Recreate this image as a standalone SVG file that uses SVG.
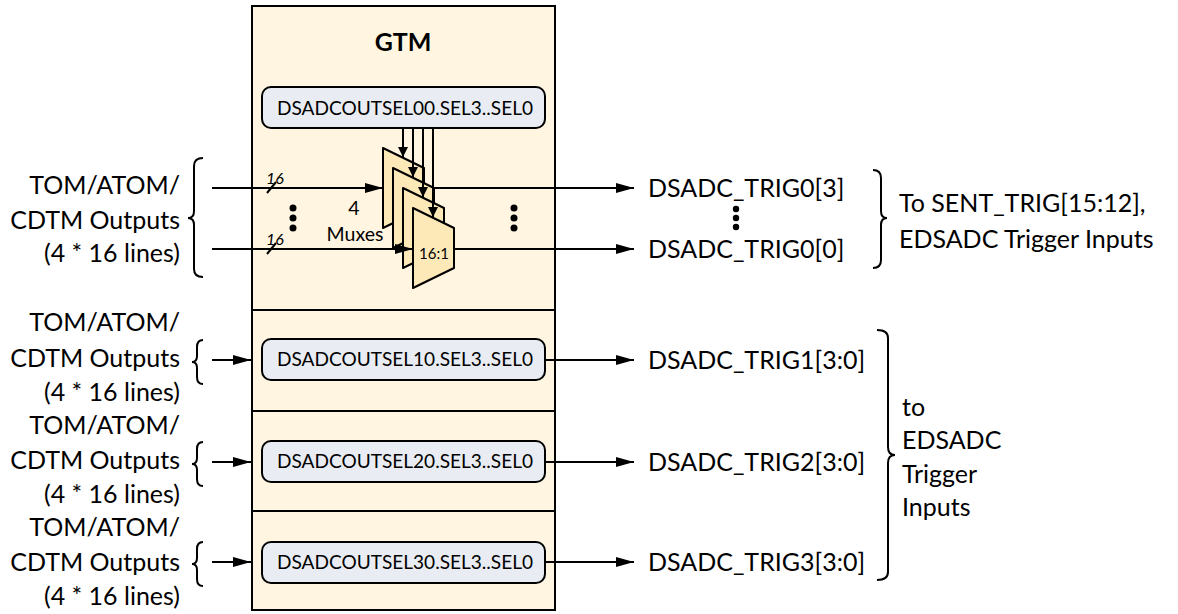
<svg xmlns="http://www.w3.org/2000/svg" width="1178" height="614" viewBox="0 0 1178 614">
<defs>
<style>
.t{font-family:Lato,"Liberation Sans",sans-serif;font-size:25px;fill:#000}
.te{text-anchor:end}
.tm{text-anchor:middle}
.reg{fill:#e9edf3;stroke:#000;stroke-width:2}
.regt{font-family:Lato,"Liberation Sans",sans-serif;font-size:18.5px;fill:#000}
.small{font-family:Lato,"Liberation Sans",sans-serif;fill:#000}
.mux{fill:#fde8b8;stroke:#000;stroke-width:2;stroke-linejoin:round}
.ln{stroke:#000;stroke-width:2;fill:none}
.br{stroke:#000;stroke-width:2;fill:none}
</style>
<marker id="ah" viewBox="0 0 18 10" refX="18" refY="5" markerWidth="18" markerHeight="10" markerUnits="userSpaceOnUse" orient="auto"><path d="M0,0 L18,5 L0,10 z" fill="#000"/></marker>
<marker id="ahs" viewBox="0 0 10 10" refX="10" refY="5" markerWidth="11" markerHeight="10" markerUnits="userSpaceOnUse" orient="auto"><path d="M0,0 L10,5 L0,10 z" fill="#000"/></marker>
</defs>

<g id="gtm">
<rect x="252" y="6" width="303" height="604" fill="#fff5e1" stroke="#000" stroke-width="2"/>
<line x1="252" y1="310" x2="555" y2="310" class="ln"/>
<line x1="252" y1="411" x2="555" y2="411" class="ln"/>
<line x1="252" y1="511" x2="555" y2="511" class="ln"/>
<text x="403" y="51" class="t tm" font-weight="bold">GTM</text>
</g>

<g id="sel00">
<rect x="262" y="87" width="283" height="41" rx="9" class="reg"/>
<text x="277" y="115" class="regt" textLength="256" lengthAdjust="spacingAndGlyphs">DSADCOUTSEL00.SEL3..SEL0</text>
</g>

<g id="muxes">
<path class="mux" d="M383,148 L424,168 L424,208 L383,228 Z"/>
<path class="mux" d="M393,168 L434,188 L434,228 L393,248 Z"/>
<path class="mux" d="M403,188 L444,208 L444,248 L403,268 Z"/>
<path class="mux" d="M413,208 L454,228 L454,268 L413,288 Z"/>
<text x="434" y="259" class="small" font-size="15" text-anchor="middle">16:1</text>
<text x="354" y="215" class="small" font-size="19.5" text-anchor="middle">4</text>
<text x="355" y="241" class="small" font-size="19.5" text-anchor="middle">Muxes</text>
</g>

<g id="sel10">
<rect x="262" y="339" width="283" height="41" rx="9" class="reg"/>
<text x="277" y="366" class="regt" textLength="256" lengthAdjust="spacingAndGlyphs">DSADCOUTSEL10.SEL3..SEL0</text>
</g>
<g id="sel20">
<rect x="262" y="441" width="283" height="41" rx="9" class="reg"/>
<text x="277" y="468" class="regt" textLength="256" lengthAdjust="spacingAndGlyphs">DSADCOUTSEL20.SEL3..SEL0</text>
</g>
<g id="sel30">
<rect x="262" y="542" width="283" height="41" rx="9" class="reg"/>
<text x="277" y="569" class="regt" textLength="256" lengthAdjust="spacingAndGlyphs">DSADCOUTSEL30.SEL3..SEL0</text>
</g>

<g id="connectors">
<line x1="403" y1="128" x2="403" y2="157" class="ln" marker-end="url(#ahs)"/>
<line x1="413" y1="128" x2="413" y2="177" class="ln" marker-end="url(#ahs)"/>
<line x1="423" y1="128" x2="423" y2="197" class="ln" marker-end="url(#ahs)"/>
<line x1="433" y1="128" x2="433" y2="217" class="ln" marker-end="url(#ahs)"/>
<line x1="212" y1="188" x2="383" y2="188" class="ln" marker-end="url(#ah)"/>
<line x1="212" y1="249" x2="413" y2="249" class="ln" marker-end="url(#ah)"/>
<line x1="267" y1="193" x2="276" y2="182" class="ln" stroke-width="1.5"/>
<line x1="267" y1="254" x2="276" y2="243" class="ln" stroke-width="1.5"/>
<line x1="434" y1="188" x2="634" y2="188" class="ln" marker-end="url(#ah)"/>
<line x1="454" y1="249" x2="634" y2="249" class="ln" marker-end="url(#ah)"/>
<line x1="212" y1="360" x2="251" y2="360" class="ln" marker-end="url(#ah)"/>
<line x1="212" y1="462" x2="251" y2="462" class="ln" marker-end="url(#ah)"/>
<line x1="212" y1="562" x2="251" y2="562" class="ln" marker-end="url(#ah)"/>
<line x1="545" y1="360" x2="634" y2="360" class="ln" marker-end="url(#ah)"/>
<line x1="545" y1="462" x2="634" y2="462" class="ln" marker-end="url(#ah)"/>
<line x1="545" y1="562" x2="634" y2="562" class="ln" marker-end="url(#ah)"/>
</g>

<g id="bus-labels" class="small" font-size="16" font-style="italic">
<text x="266" y="184">16</text>
<text x="266" y="245">16</text>
</g>

<g id="dots" fill="#000">
<circle cx="293" cy="208" r="3.5"/><circle cx="293" cy="218" r="3.5"/><circle cx="293" cy="228" r="3.5"/>
<circle cx="514" cy="208" r="3.5"/><circle cx="514" cy="218" r="3.5"/><circle cx="514" cy="228" r="3.5"/>
<circle cx="736" cy="209" r="3.2"/><circle cx="736" cy="218" r="3.2"/><circle cx="736" cy="227" r="3.2"/>
</g>

<g id="inputs0">
<text x="180" y="194" class="t te">TOM/ATOM/</text>
<text x="180" y="229" class="t te">CDTM Outputs</text>
<text x="180" y="262" class="t te">(4 * 16 lines)</text>
<path class="br" d="M203,158 Q194,158 194,166 L194,211 Q194,218 188,218 Q194,218 194,225 L194,269 Q194,277 203,277"/>
</g>
<g id="inputs1">
<text x="180" y="331" class="t te">TOM/ATOM/</text>
<text x="180" y="367" class="t te">CDTM Outputs</text>
<text x="180" y="401" class="t te">(4 * 16 lines)</text>
<path class="br" d="M203,340 Q197,340 197,347 L197,356 Q197,362 192,362 Q197,362 197,368 L197,377 Q197,384 203,384"/>
</g>
<g id="inputs2">
<text x="180" y="434" class="t te">TOM/ATOM/</text>
<text x="180" y="469" class="t te">CDTM Outputs</text>
<text x="180" y="503" class="t te">(4 * 16 lines)</text>
<path class="br" d="M203,442 Q197,442 197,449 L197,458 Q197,464 192,464 Q197,464 197,470 L197,479 Q197,486 203,486"/>
</g>
<g id="inputs3">
<text x="180" y="536" class="t te">TOM/ATOM/</text>
<text x="180" y="571" class="t te">CDTM Outputs</text>
<text x="180" y="605" class="t te">(4 * 16 lines)</text>
<path class="br" d="M203,542 Q197,542 197,549 L197,558 Q197,564 192,564 Q197,564 197,570 L197,579 Q197,586 203,586"/>
</g>

<g id="outputs0">
<text x="648" y="197" class="t">DSADC_TRIG0[3]</text>
<text x="648" y="258" class="t">DSADC_TRIG0[0]</text>
<path class="br" d="M873,170 Q881,170 881,178 L881,211 Q881,218 887,218 Q881,218 881,225 L881,260 Q881,268 873,268"/>
<text x="899" y="212" class="t">To SENT_TRIG[15:12],</text>
<text x="899" y="248" class="t">EDSADC Trigger Inputs</text>
</g>
<g id="outputs1">
<text x="648" y="369" class="t">DSADC_TRIG1[3:0]</text>
<text x="648" y="471" class="t">DSADC_TRIG2[3:0]</text>
<text x="648" y="571" class="t">DSADC_TRIG3[3:0]</text>
<path class="br" d="M877,330 Q888,330 888,338 L888,447 Q888,455 895,455 Q888,455 888,463 L888,572 Q888,580 877,580"/>
<text x="902" y="416" class="t">to</text>
<text x="902" y="449" class="t">EDSADC</text>
<text x="902" y="483" class="t">Trigger</text>
<text x="902" y="516" class="t">Inputs</text>
</g>
</svg>
